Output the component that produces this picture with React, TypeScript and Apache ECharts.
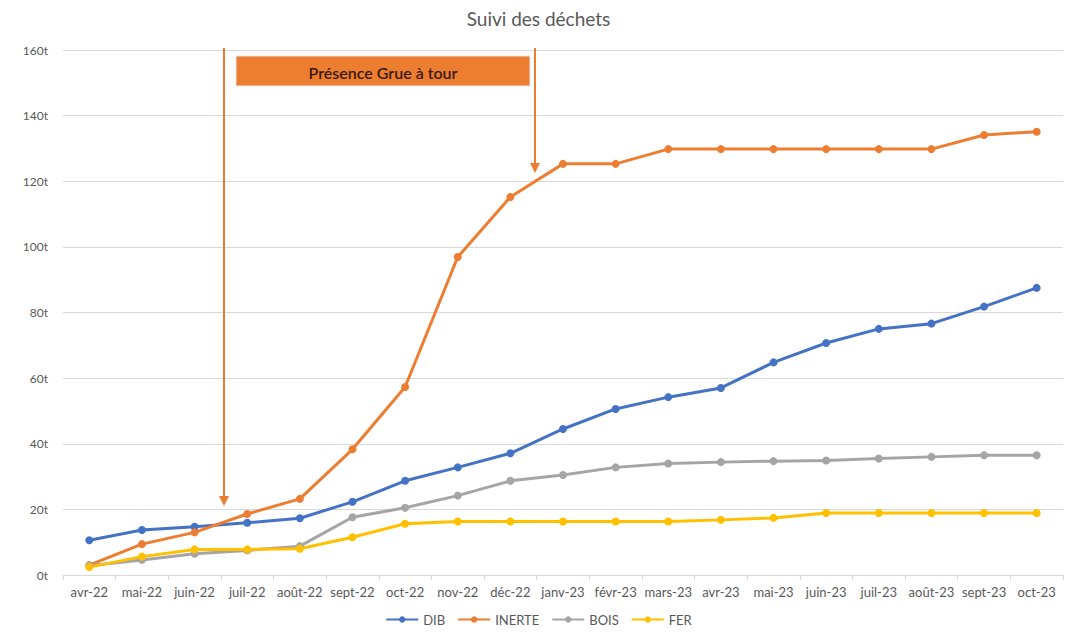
import React, { useEffect, useRef } from "react";
import * as echarts from "echarts";

const months = [
  "avr-22", "mai-22", "juin-22", "juil-22", "août-22", "sept-22", "oct-22", "nov-22", "déc-22",
  "janv-23", "févr-23", "mars-23", "avr-23", "mai-23", "juin-23", "juil-23", "août-23", "sept-23", "oct-23",
];
const dib = [10.6, 13.7, 14.7, 15.9, 17.3, 22.3, 28.7, 32.8, 37.1, 44.5, 50.6, 54.2, 57.0, 64.8, 70.7, 75.0, 76.6, 81.8, 87.5];
const inerte = [3.0, 9.4, 13.0, 18.6, 23.2, 38.3, 57.3, 96.9, 115.2, 125.3, 125.3, 129.8, 129.8, 129.8, 129.8, 129.8, 129.8, 134.1, 135.1];
const bois = [2.8, 4.6, 6.5, 7.5, 8.8, 17.6, 20.5, 24.2, 28.7, 30.5, 32.8, 34.0, 34.4, 34.7, 34.9, 35.5, 36.0, 36.5, 36.5];
const fer = [2.4, 5.6, 7.8, 7.8, 8.0, 11.5, 15.6, 16.3, 16.3, 16.3, 16.3, 16.3, 16.8, 17.4, 18.9, 18.9, 18.9, 18.9, 18.9];
const yTicks = { min: 0, max: 160, interval: 20 };
const annotationText = "Présence Grue à tour";

const FONT = "Lato, 'Open Sans', sans-serif";
const ORANGE = "#ED7D31";

export default function App() {
  const ref = useRef<HTMLDivElement>(null);
  useEffect(() => {
    if (!ref.current) return;
    const chart = echarts.init(ref.current, null, { renderer: "svg" });
    const mk = (name: string, data: number[], color: string) => ({
      name,
      type: "line",
      data,
      symbol: "circle",
      symbolSize: 8,
      lineStyle: { width: 3, color },
      itemStyle: { color },
      z: 3,
    });
    chart.setOption({
      animation: false,
      textStyle: { fontFamily: FONT },
      title: {
        text: "Suivi des déchets",
        left: "center",
        top: 4,
        textStyle: { fontFamily: FONT, fontSize: 19, fontWeight: "normal", color: "#595959" },
      },
      grid: { left: 63, right: 14, top: 50, bottom: 66 },
      xAxis: {
        type: "category",
        data: months,
        boundaryGap: true,
        axisLine: { lineStyle: { color: "#D9D9D9", width: 1 } },
        axisTick: { show: true, length: 5, lineStyle: { color: "#D9D9D9" } },
        axisLabel: { color: "#595959", fontSize: 13, margin: 10, interval: 0, fontFamily: FONT },
      },
      yAxis: {
        type: "value",
        min: yTicks.min,
        max: yTicks.max,
        interval: yTicks.interval,
        axisLine: { show: false },
        axisTick: { show: false },
        splitLine: { lineStyle: { color: "#D9D9D9", width: 1 } },
        axisLabel: { color: "#595959", fontSize: 12, margin: 15, formatter: "{value}t", fontFamily: FONT },
      },
      legend: {
        bottom: 10,
        left: "center",
        itemWidth: 32,
        itemHeight: 8,
        itemGap: 12,
        textStyle: { color: "#595959", fontSize: 13, fontFamily: FONT },
        data: ["DIB", "INERTE", "BOIS", "FER"],
      },
      series: [
        mk("DIB", dib, "#4472C4"),
        mk("INERTE", inerte, ORANGE),
        mk("BOIS", bois, "#A5A5A5"),
        mk("FER", fer, "#FFC000"),
      ],
      graphic: [
        { type: "line", shape: { x1: 224, y1: 48, x2: 224, y2: 499 }, style: { stroke: ORANGE, lineWidth: 2 }, z: 10 },
        { type: "polygon", shape: { points: [[219, 496], [229, 496], [224, 506]] }, style: { fill: ORANGE }, z: 10 },
        { type: "line", shape: { x1: 535, y1: 48, x2: 535, y2: 166 }, style: { stroke: ORANGE, lineWidth: 2 }, z: 10 },
        { type: "polygon", shape: { points: [[530, 163], [540, 163], [535, 173]] }, style: { fill: ORANGE }, z: 10 },
        {
          type: "rect",
          shape: { x: 236, y: 56, width: 294, height: 30 },
          style: { fill: ORANGE, stroke: "#E8E8E8", lineWidth: 1 },
          z: 10,
        },
        {
          type: "text",
          x: 383,
          y: 72,
          style: {
            text: annotationText,
            fill: "#3A1A08",
            fontSize: 16,
            fontWeight: 600,
            fontFamily: FONT,
            align: "center",
            verticalAlign: "middle",
          },
          z: 11,
        },
      ],
    });
    return () => chart.dispose();
  }, []);
  return <div ref={ref} style={{ width: 1077, height: 641, margin: -8 }} />;
}
